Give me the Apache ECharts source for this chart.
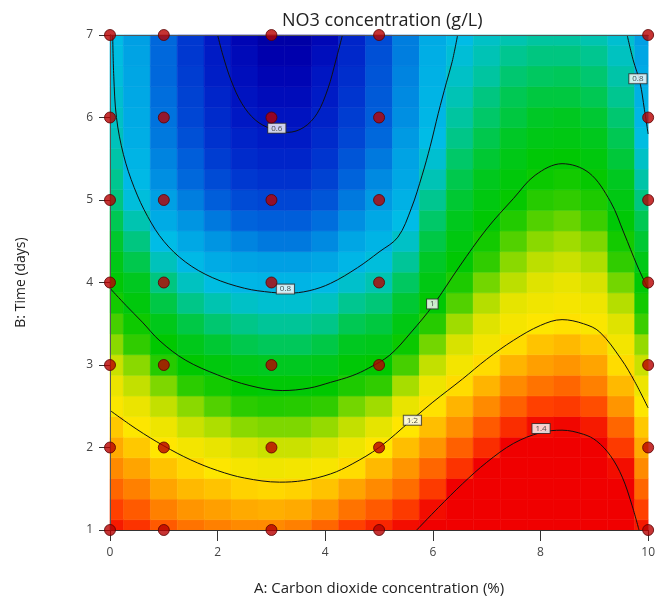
<!DOCTYPE html>
<html>
<head>
<meta charset="utf-8">
<script src="https://cdn.jsdelivr.net/npm/echarts@6/dist/echarts.min.js"></script>
<style>
  html, body { margin: 0; padding: 0; background: #fff; }
  #chart { width: 658px; height: 601px; }
</style>
</head>
<body>
<div id="chart"></div>
<script>
// grid positions of the response surface (A: CO2 %, B: days)
const xSteps = [0, 0.5, 1, 1.5, 2, 2.5, 3, 3.5, 4, 4.5, 5, 5.5, 6, 6.5, 7, 7.5, 8, 8.5, 9, 9.5, 10];
const ySteps = [1, 1.25, 1.5, 1.75, 2, 2.25, 2.5, 2.75, 3, 3.25, 3.5, 3.75, 4, 4.25, 4.5, 4.75, 5, 5.25, 5.5, 5.75, 6, 6.25, 6.5, 6.75, 7];

// NO3 (g/L), one column per xSteps entry, bottom (day 1) to top (day 7)
const no3Columns = [
    [1.38, 1.35, 1.32, 1.29, 1.26, 1.23, 1.19, 1.16, 1.13, 1.09, 1.06, 1.02, 0.99, 0.965, 0.94, 0.91, 0.88, 0.87, 0.855, 0.84, 0.83, 0.82, 0.81, 0.805, 0.80],
    [1.36, 1.33, 1.30, 1.265, 1.23, 1.195, 1.16, 1.125, 1.09, 1.05, 1.015, 0.98, 0.95, 0.915, 0.88, 0.85, 0.81, 0.795, 0.785, 0.775, 0.77, 0.765, 0.76, 0.755, 0.75],
    [1.33, 1.30, 1.265, 1.235, 1.20, 1.165, 1.125, 1.085, 1.04, 1.0, 0.96, 0.92, 0.88, 0.84, 0.80, 0.77, 0.75, 0.735, 0.725, 0.715, 0.71, 0.705, 0.70, 0.70, 0.70],
    [1.31, 1.28, 1.245, 1.215, 1.175, 1.13, 1.09, 1.045, 1.0, 0.96, 0.92, 0.875, 0.835, 0.795, 0.765, 0.74, 0.72, 0.70, 0.69, 0.675, 0.665, 0.66, 0.655, 0.65, 0.65],
    [1.30, 1.27, 1.235, 1.195, 1.155, 1.11, 1.065, 1.02, 0.98, 0.935, 0.89, 0.85, 0.805, 0.77, 0.74, 0.715, 0.69, 0.67, 0.655, 0.64, 0.63, 0.62, 0.61, 0.605, 0.60],
    [1.29, 1.26, 1.22, 1.18, 1.14, 1.09, 1.045, 1.0, 0.96, 0.915, 0.875, 0.83, 0.79, 0.755, 0.725, 0.695, 0.67, 0.65, 0.63, 0.615, 0.60, 0.59, 0.58, 0.57, 0.56],
    [1.29, 1.255, 1.215, 1.17, 1.13, 1.085, 1.035, 0.99, 0.95, 0.905, 0.865, 0.82, 0.785, 0.75, 0.715, 0.69, 0.665, 0.64, 0.62, 0.605, 0.59, 0.575, 0.56, 0.545, 0.535],
    [1.30, 1.26, 1.22, 1.175, 1.13, 1.085, 1.04, 0.99, 0.95, 0.905, 0.865, 0.82, 0.785, 0.75, 0.715, 0.69, 0.665, 0.64, 0.62, 0.605, 0.59, 0.575, 0.56, 0.545, 0.535],
    [1.32, 1.28, 1.235, 1.185, 1.14, 1.095, 1.05, 1.0, 0.96, 0.92, 0.875, 0.835, 0.795, 0.76, 0.73, 0.705, 0.68, 0.66, 0.645, 0.63, 0.615, 0.605, 0.595, 0.58, 0.565],
    [1.35, 1.31, 1.265, 1.21, 1.165, 1.125, 1.08, 1.03, 0.99, 0.95, 0.91, 0.87, 0.825, 0.79, 0.76, 0.735, 0.715, 0.695, 0.68, 0.665, 0.655, 0.645, 0.635, 0.625, 0.62],
    [1.37, 1.33, 1.29, 1.245, 1.20, 1.15, 1.10, 1.05, 1.0, 0.96, 0.925, 0.885, 0.85, 0.81, 0.785, 0.765, 0.745, 0.73, 0.715, 0.70, 0.69, 0.685, 0.68, 0.675, 0.67],
    [1.39, 1.355, 1.315, 1.28, 1.24, 1.20, 1.155, 1.105, 1.06, 1.01, 0.97, 0.935, 0.90, 0.865, 0.83, 0.80, 0.78, 0.765, 0.755, 0.745, 0.735, 0.73, 0.725, 0.72, 0.72],
    [1.42, 1.39, 1.355, 1.32, 1.28, 1.24, 1.205, 1.165, 1.125, 1.08, 1.04, 0.995, 0.97, 0.945, 0.92, 0.895, 0.87, 0.845, 0.82, 0.80, 0.79, 0.785, 0.78, 0.775, 0.77],
    [1.46, 1.43, 1.40, 1.36, 1.325, 1.285, 1.25, 1.21, 1.175, 1.14, 1.10, 1.065, 1.03, 0.995, 0.975, 0.955, 0.935, 0.915, 0.895, 0.875, 0.86, 0.845, 0.83, 0.815, 0.80],
    [1.50, 1.47, 1.435, 1.405, 1.365, 1.33, 1.29, 1.25, 1.21, 1.175, 1.145, 1.115, 1.08, 1.05, 1.02, 0.995, 0.975, 0.955, 0.935, 0.915, 0.895, 0.88, 0.86, 0.845, 0.83],
    [1.53, 1.50, 1.465, 1.435, 1.405, 1.365, 1.325, 1.29, 1.25, 1.21, 1.18, 1.15, 1.12, 1.09, 1.065, 1.035, 1.005, 0.985, 0.965, 0.945, 0.925, 0.91, 0.89, 0.87, 0.85],
    [1.55, 1.52, 1.49, 1.455, 1.42, 1.39, 1.35, 1.31, 1.27, 1.235, 1.195, 1.17, 1.145, 1.12, 1.09, 1.065, 1.04, 1.01, 0.99, 0.965, 0.945, 0.925, 0.90, 0.88, 0.86],
    [1.56, 1.53, 1.495, 1.465, 1.43, 1.395, 1.355, 1.32, 1.28, 1.245, 1.205, 1.18, 1.155, 1.13, 1.10, 1.075, 1.05, 1.02, 0.995, 0.97, 0.95, 0.925, 0.905, 0.88, 0.86],
    [1.54, 1.51, 1.48, 1.445, 1.41, 1.38, 1.34, 1.30, 1.265, 1.23, 1.19, 1.165, 1.14, 1.11, 1.085, 1.055, 1.03, 1.005, 0.98, 0.955, 0.935, 0.91, 0.89, 0.87, 0.85],
    [1.48, 1.45, 1.42, 1.39, 1.355, 1.32, 1.28, 1.245, 1.21, 1.175, 1.145, 1.115, 1.08, 1.05, 1.02, 0.99, 0.97, 0.95, 0.93, 0.91, 0.89, 0.87, 0.855, 0.835, 0.82],
    [1.38, 1.35, 1.32, 1.29, 1.26, 1.23, 1.195, 1.165, 1.13, 1.095, 1.055, 1.02, 0.99, 0.965, 0.935, 0.91, 0.88, 0.855, 0.83, 0.805, 0.79, 0.78, 0.77, 0.76, 0.75]
];

// colour ramp, 0.5 .. 1.4 g/L in 0.05 steps
const rampColors = ['#000090', '#0000b0', '#0018c4', '#0038d0', '#0068dc', '#00a0e4', '#00bce6', '#00c4b0', '#00c860', '#00c820',
    '#00c800', '#30cc00', '#a0dc00', '#e6e400', '#ffe600', '#ffb400', '#ff8000', '#ff4000', '#f00000'];

// contour lines, [A, B] pairs
const contour06 = [[2.0, 7], [2.1, 6.75], [2.25, 6.45], [2.45, 6.17], [2.7, 5.97], [3.0, 5.86], [3.3, 5.82], [3.6, 5.88], [3.85, 6.05], [4.05, 6.35], [4.2, 6.7], [4.32, 7]];
const contour08Left = [[0.05, 7], [0.07, 6.5], [0.12, 6.0], [0.25, 5.55], [0.45, 5.15], [0.7, 4.8], [1.0, 4.5], [1.4, 4.25], [1.9, 4.06], [2.5, 3.93], [3.0, 3.88], [3.3, 3.87], [3.7, 3.9], [4.1, 3.99], [4.6, 4.18], [5.0, 4.37], [5.35, 4.55], [5.6, 4.9], [5.8, 5.3], [5.95, 5.65], [6.1, 6.05], [6.25, 6.42], [6.36, 6.68], [6.46, 7]];
const contour08Right = [[9.61, 7], [9.72, 6.7], [9.85, 6.42], [9.93, 6.1], [10, 5.8]];
const contour10 = [[0, 3.93], [0.3, 3.72], [0.6, 3.52], [0.93, 3.29], [1.4, 3.06], [2.0, 2.88], [2.6, 2.75], [3.2, 2.69], [3.7, 2.72], [4.1, 2.79], [4.5, 2.87], [4.8, 2.96], [5.2, 3.12], [5.6, 3.4], [6.0, 3.72], [6.5, 4.2], [7.0, 4.65], [7.5, 5.02], [7.9, 5.3], [8.4, 5.44], [8.9, 5.33], [9.3, 4.98], [9.55, 4.6], [9.8, 4.2], [10, 3.92]];
const contour12 = [[0, 2.45], [0.5, 2.22], [1.0, 2.02], [1.5, 1.85], [2.0, 1.72], [2.5, 1.63], [3.15, 1.58], [3.6, 1.6], [4.1, 1.68], [4.5, 1.8], [5.0, 2.0], [5.6, 2.33], [6.0, 2.55], [6.55, 2.83], [7.0, 3.07], [7.5, 3.3], [8.0, 3.48], [8.4, 3.55], [8.8, 3.5], [9.1, 3.4], [9.5, 3.07], [9.75, 2.8], [10, 2.48]];
const contour14 = [[5.7, 1.0], [6.1, 1.27], [6.55, 1.56], [7.0, 1.82], [7.5, 2.05], [8.0, 2.18], [8.4, 2.21], [8.8, 2.16], [9.04, 2.08], [9.3, 1.9], [9.52, 1.64], [9.7, 1.3], [9.83, 1.0]];

// contour labels: [A, B, text]
const contourLabels = [[3.1, 5.87, '0.6'], [3.26, 3.92, '0.8'], [5.99, 3.74, '1'], [5.62, 2.33, '1.2'], [8.01, 2.23, '1.4'], [9.81, 6.47, '0.8']];

// design points
const designA = [0, 1, 3, 5, 10];
const designB = [1, 2, 3, 4, 5, 6, 7];

const surfaceData = [];
xSteps.forEach((x, i) => {
    ySteps.forEach((y, j) => surfaceData.push([x, y, no3Columns[i][j]]));
});
const designData = [];
designA.forEach(a => designB.forEach(b => designData.push([a, b])));

const contourSeries = [contour06, contour08Left, contour08Right, contour10, contour12, contour14].map(c => ({
    type: 'line',
    data: c,
    smooth: 0.35,
    symbol: 'none',
    lineStyle: { color: '#111', width: 1 },
    z: 5,
    silent: true
}));

const chart = echarts.init(document.getElementById('chart'));
const axisText = { color: '#444', fontSize: 12, fontFamily: 'Open Sans' };
chart.setOption({
    animation: false,
    title: {
        text: 'NO3 concentration (g/L)',
        left: 277, top: 7,
        textStyle: { fontSize: 18, fontWeight: 'normal', color: '#222', fontFamily: 'Open Sans' }
    },
    grid: { left: 110, right: 9, top: 35, bottom: 68 },
    visualMap: {
        show: false, seriesIndex: 0, dimension: 2, min: 0.5, max: 1.4,
        inRange: { color: rampColors }
    },
    xAxis: [{
        type: 'value', min: 0, max: 10, interval: 2, z: 10,
        name: 'A: Carbon dioxide concentration (%)', nameLocation: 'middle', nameGap: 51,
        nameTextStyle: { fontSize: 15, color: '#222', fontFamily: 'Open Sans' },
        axisLine: { lineStyle: { color: '#333' } },
        axisTick: { length: 11, lineStyle: { color: '#333' } },
        axisLabel: Object.assign({ margin: 17 }, axisText),
        splitLine: { show: false }
    }, {
        type: 'value', min: 0, max: 10, position: 'top', z: 10,
        axisLine: { lineStyle: { color: '#555' } },
        axisTick: { show: false }, axisLabel: { show: false }, splitLine: { show: false }
    }],
    yAxis: [{
        type: 'value', min: 1, max: 7, interval: 1, z: 10,
        name: 'B: Time (days)', nameLocation: 'middle', nameGap: 82,
        nameTextStyle: { fontSize: 14, color: '#222', fontFamily: 'Open Sans' },
        axisLine: { lineStyle: { color: '#333' } },
        axisTick: { length: 11, lineStyle: { color: '#333' } },
        axisLabel: Object.assign({ margin: 17 }, axisText),
        splitLine: { show: false }
    }, {
        type: 'value', min: 1, max: 7, position: 'right', z: 10,
        axisLine: { lineStyle: { color: '#555' } },
        axisTick: { show: false }, axisLabel: { show: false }, splitLine: { show: false }
    }],
    series: [{
        type: 'custom',
        data: surfaceData,
        encode: { x: 0, y: 1 },
        silent: true,
        z: 1,
        renderItem: function (params, api) {
            const x = api.value(0), y = api.value(1);
            const p0 = api.coord([Math.max(0, x - 0.25), Math.min(7, y + 0.125)]);
            const p1 = api.coord([Math.min(10, x + 0.25), Math.max(1, y - 0.125)]);
            const color = api.visual('color');
            return {
                type: 'rect',
                shape: { x: p0[0], y: p0[1], width: p1[0] - p0[0], height: p1[1] - p0[1] },
                style: { fill: color, stroke: color, lineWidth: 0.6 }
            };
        }
    }].concat(contourSeries, [{
        type: 'scatter',
        data: contourLabels.map(l => ({ value: [l[0], l[1]], label: { formatter: l[2] } })),
        symbolSize: 0,
        z: 15,
        silent: true,
        label: {
            show: true, position: 'inside',
            fontSize: 8, color: '#222', fontFamily: 'Open Sans',
            backgroundColor: '#fff', borderColor: '#333', borderWidth: 1,
            padding: [1, 3, 0, 3]
        }
    }, {
        type: 'scatter',
        data: designData,
        symbolSize: 11,
        clip: false,
        z: 20,
        itemStyle: { color: '#b80000', borderColor: '#5a0000', borderWidth: 1 }
    }])
});
window.addEventListener('resize', () => chart.resize());
</script>
</body>
</html>
